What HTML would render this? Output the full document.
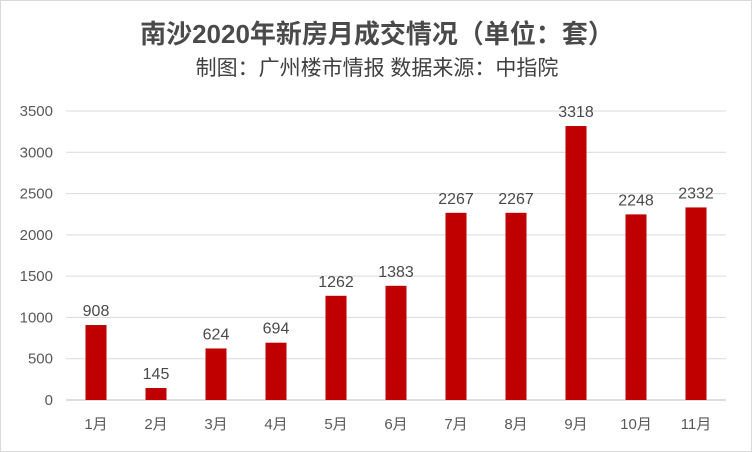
<!DOCTYPE html>
<html><head><meta charset="utf-8">
<style>
body{margin:0;background:#fff;}
#wrap{width:750px;height:450px;border:1px solid #d9d9d9;position:relative;overflow:hidden;background:#fff;}
svg text{font-family:"Liberation Sans","Noto Sans CJK SC",sans-serif;}
</style></head>
<body>
<div id="wrap">
<svg id="chart" width="750" height="450">
<text x="376" y="42" text-anchor="middle" font-size="26" font-weight="bold" fill="#4a4a4a">南沙2020年新房月成交情况（单位：套）</text>
<text x="376" y="74" text-anchor="middle" font-size="21" fill="#404040">制图：广州楼市情报  数据来源：中指院</text>
<g id="grid"></g><g id="bars"></g><g id="labels"></g>
</svg>
</div>
<script>
const categories=["1月","2月","3月","4月","5月","6月","7月","8月","9月","10月","11月"];
const values=[908,145,624,694,1262,1383,2267,2267,3318,2248,2332];
const yTicks=[0,500,1000,1500,2000,2500,3000,3500];
const ns="http://www.w3.org/2000/svg";
const svg=document.getElementById('chart');
const x0=65,x1=725,y0=399,yTop=110,yMax=3500,barW=21;
const step=(x1-x0)/categories.length;
function xc(i){return x0+step*(i+0.5);}
function y(v){return y0-(v/yMax)*(y0-yTop);}
function mk(tag,attrs,parent,txt){const e=document.createElementNS(ns,tag);for(const k in attrs)e.setAttribute(k,attrs[k]);if(txt!==undefined)e.textContent=txt;parent.appendChild(e);return e;}
const g=document.getElementById('grid'),b=document.getElementById('bars'),l=document.getElementById('labels');
yTicks.forEach(t=>{
  const ln=mk('line',{x1:x0,x2:x1,y1:y(t),y2:y(t),stroke:t===0?'#bfbfbf':'#d9d9d9','stroke-width':1},g);
  
  
  const tx=mk('text',{x:52,y:y(t)+5,'text-anchor':'end','font-size':15,fill:'#595959'},g,t);
  
  
});
categories.forEach((c,i)=>{
  const r=mk('rect',{x:xc(i)-barW/2,y:y(values[i]),width:barW,height:y0-y(values[i]),fill:'#C00000'},b);
  
  
  const v=mk('text',{x:xc(i),y:y(values[i])-9,'text-anchor':'middle','font-size':16,fill:'#4a4a4a'},l,values[i]);
  
  
  const cl=mk('text',{x:xc(i),y:428,'text-anchor':'middle','font-size':15,fill:'#595959'},l,c);
  
  
});
</script>
</body></html>
